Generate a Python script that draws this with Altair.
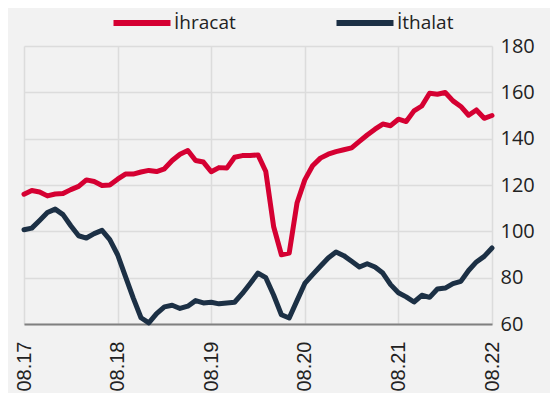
import altair as alt
import pandas as pd

# Month labels 08.17 ... 08.22
all_months = [f"{m:02d}.{y % 100:02d}" for y in range(2017, 2023) for m in range(1, 13)]
months = all_months[7:7 + 61]
tick_labels = ["08.17", "08.18", "08.19", "08.20", "08.21", "08.22"]

ihracat = [116, 117.6, 117, 115.3, 116.1, 116.3, 118, 119.4, 122.2, 121.5,
           119.8, 120, 122.5, 124.7, 124.7, 125.6, 126.3, 125.8, 127, 130.6,
           133.3, 134.9, 130.6, 129.9, 125.7, 127.5, 127.3, 132, 132.7, 132.7,
           133, 125.8, 102.1, 89.9, 90.6, 112.2, 122.2, 128.3, 131.6, 133.3,
           134.4, 135.2, 136, 138.8, 141.6, 144.1, 146.3, 145.6, 148.4, 147.4,
           152, 154.1, 159.6, 159.2, 159.9, 156.3, 153.9, 150.1, 152.4, 148.8,
           150]
ithalat = [100.7, 101.4, 104.7, 108.1, 109.6, 107.2, 102.4, 98.1, 97.1, 99,
           100.4, 96.4, 89.9, 80.6, 71.3, 62.7, 60.5, 64.5, 67.4, 68.1,
           66.7, 67.7, 70.1, 69.1, 69.4, 68.7, 69.1, 69.4, 73.2, 77.5,
           82, 80, 72.5, 64, 62.6, 70.1, 77.5, 81.3, 84.9, 88.5,
           91.1, 89.5, 87.1, 84.6, 86, 84.6, 82, 77, 73.5, 71.7,
           69.5, 72.4, 71.5, 75.1, 75.5, 77.4, 78.4, 83.1, 86.8, 89.2,
           92.8]
series_names = ["İhracat", "İthalat"]
series_colors = ["#d50032", "#1c3045"]
y_ticks = [60, 80, 100, 120, 140, 160, 180]

rows = []
for name, vals in zip(series_names, [ihracat, ithalat]):
    for m, v in zip(months, vals):
        rows.append({"month": m, "series": name, "value": v})
df = pd.DataFrame(rows)

chart = alt.Chart(df).mark_line(strokeWidth=5, strokeJoin="round", strokeCap="round").encode(
    x=alt.X("month:O", sort=months,
            scale=alt.Scale(type="point", padding=0),
            axis=alt.Axis(values=tick_labels, labelAngle=270, title=None, grid=True,
                          gridColor="#dcdcdc", gridWidth=1.5, ticks=False,
                          domainColor="#808080", domainWidth=2,
                          labelFont="Liberation Sans", labelFontSize=20,
                          labelColor="#222222", labelPadding=17)),
    y=alt.Y("value:Q", scale=alt.Scale(domain=[60, 180], nice=False, zero=False),
            axis=alt.Axis(orient="right", values=y_ticks, title=None, domain=False,
                          ticks=False, gridColor="#dcdcdc", gridWidth=1.5,
                          labelFont="Open Sans", labelFontSize=20,
                          labelColor="#222222", labelPadding=8)),
    color=alt.Color("series:N",
                    scale=alt.Scale(domain=series_names, range=series_colors),
                    legend=alt.Legend(orient="none", legendX=86, legendY=-55,
                                      direction="horizontal", title=None,
                                      symbolType="stroke", symbolSize=3250,
                                      symbolStrokeWidth=6, labelFont="Open Sans",
                                      labelFontSize=19, labelColor="#222222",
                                      columnPadding=88, labelOffset=0, padding=0)),
).properties(
    width=468, height=278, background="#f2f2f2",
    padding={"left": 16, "top": 38, "right": 58, "bottom": 69},
    autosize="none",
).configure_view(strokeWidth=0)

chart.save("out.html", embed_options={"renderer": "svg", "actions": False})
